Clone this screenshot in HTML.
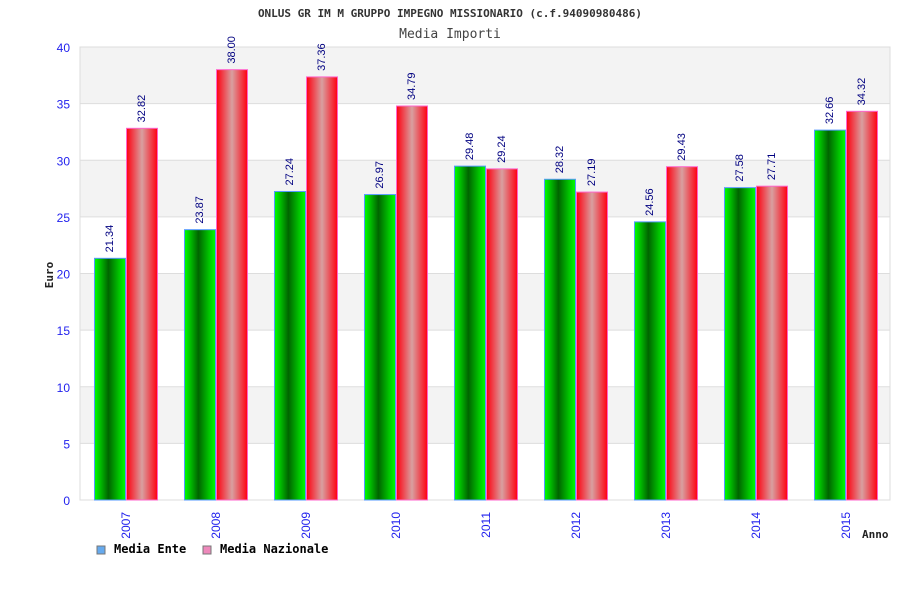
<!DOCTYPE html>
<html><head><meta charset="utf-8"><style>
body{margin:0;background:#fff}
svg{display:block;font-family:"DejaVu Sans Mono","Liberation Mono",monospace}
.sans{font-family:"Liberation Sans","DejaVu Sans",sans-serif}
</style></head><body>
<svg width="900" height="600">
<defs>
<linearGradient id="gG" x1="0" x2="1"><stop offset="0" stop-color="#00ff00"/><stop offset="0.45" stop-color="#006400"/><stop offset="1" stop-color="#00ff00"/></linearGradient>
<linearGradient id="gR" x1="0" x2="1"><stop offset="0" stop-color="#ff0010"/><stop offset="0.5" stop-color="#d8a0a0"/><stop offset="1" stop-color="#ff0010"/></linearGradient>
</defs>
<text x="450" y="17" text-anchor="middle" font-size="11" font-weight="bold" fill="#333">ONLUS GR IM M GRUPPO IMPEGNO MISSIONARIO (c.f.94090980486)</text>
<text x="450" y="38" text-anchor="middle" font-size="13" fill="#444">Media Importi</text>
<g id="plot"></g>
<text transform="translate(53,275) rotate(-90)" text-anchor="middle" font-size="11" font-weight="bold" fill="#222">Euro</text>
<text x="862" y="538" font-size="11" font-weight="bold" fill="#222">Anno</text>
<g>
<rect x="97" y="546" width="8" height="8" fill="#66aaee" stroke="#777"/>
<text x="114" y="553" font-size="12" font-weight="bold" fill="#000">Media Ente</text>
<rect x="203" y="546" width="8" height="8" fill="#ee88bb" stroke="#777"/>
<text x="220" y="553" font-size="12" font-weight="bold" fill="#000">Media Nazionale</text>
</g>
</svg>
<script>
const categories=["2007","2008","2009","2010","2011","2012","2013","2014","2015"];
const ente=[21.34,23.87,27.24,26.97,29.48,28.32,24.56,27.58,32.66];
const nazionale=[32.82,38.00,37.36,34.79,29.24,27.19,29.43,27.71,34.32];
const yTicks=[0,5,10,15,20,25,30,35,40];
const X0=80,X1=890,Y0=500,Y1=47,YMAX=40;
const ns="http://www.w3.org/2000/svg";
const g=document.getElementById('plot');
const y=v=>Y0-(v/YMAX)*(Y0-Y1);
const gw=(X1-X0)/categories.length;
const x=i=>X0+i*gw;
function mk(t,a,txt){const e=document.createElementNS(ns,t);for(const k in a)e.setAttribute(k,a[k]);if(txt!==undefined)e.textContent=txt;g.appendChild(e);return e;}
for(let i=0;i<yTicks.length-1;i++){
  if((yTicks.length-2-i)%2===0){
    const r=mk('rect',{x:X0,y:y(yTicks[i+1]),width:X1-X0,height:y(yTicks[i])-y(yTicks[i+1]),fill:'#f3f3f3'});
    
    
  }
}
yTicks.forEach(t=>{
  const l=mk('line',{x1:X0,x2:X1,y1:y(t),y2:y(t),stroke:'#ddd'});
  
  
  const tx=mk('text',{x:70,y:y(t)+5,'text-anchor':'end','font-size':12,fill:'#2222ee',class:'sans'},t);
  
  
});
const fr=mk('rect',{x:X0,y:Y1,width:X1-X0,height:Y0-Y1,fill:'none',stroke:'#ddd'});


const bw=32,off=14;
categories.forEach((c,i)=>{
  [[ente[i],'url(#gG)','#5599ff',0,'bar-ente-'],[nazionale[i],'url(#gR)','#ff66cc',bw,'bar-nazionale-']].forEach(([v,f,s,o,n])=>{
    const bx=x(i)+off+o;
    const r=mk('rect',{x:bx+0.5,y:y(v),width:bw-1,height:Y0-y(v),fill:f,stroke:s,'stroke-width':1});
    
    
    const cx=bx+bw/2+3,ty=y(v)-6;
    const t=mk('text',{transform:`translate(${cx},${ty}) rotate(-90)`,'font-size':11,fill:'#000080',class:'sans'},v.toFixed(2));
    
    
  });
  const cx=x(i)+off+bw+4;
  const t=mk('text',{transform:`translate(${cx},512) rotate(-90)`,'text-anchor':'end','font-size':12,fill:'#2222ee',class:'sans'},c);
  
  
});
</script>
</body></html>
